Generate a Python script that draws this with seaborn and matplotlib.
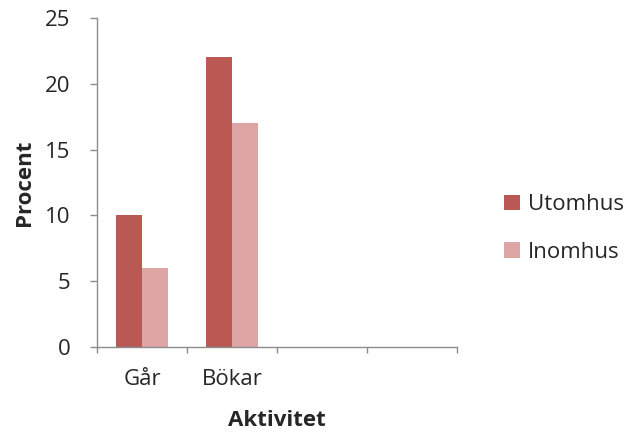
import numpy as np
import pandas as pd
import seaborn as sns
import matplotlib.pyplot as plt

# Data
categories = ['Går', 'Bökar', '', ' ']
series = ['Utomhus', 'Inomhus']
utomhus = [10, 22]
inomhus = [6, 17]
colors = ['#BA5853', '#DDA6A4']

df = pd.DataFrame({
    'Aktivitet': categories[:2] * 2,
    'Procent': utomhus + inomhus,
    'Serie': [series[0]] * 2 + [series[1]] * 2,
})

sns.set_style('white')
plt.rcParams['font.family'] = ['Open Sans', 'DejaVu Sans']
fs = 16

fig = plt.figure(figsize=(6.28, 4.32), dpi=100)
ax = fig.add_axes([0.1545, 0.1968, 0.5732, 0.7615])

sns.barplot(data=df, x='Aktivitet', y='Procent', hue='Serie', order=categories,
            hue_order=series, palette=colors, width=0.57, saturation=1,
            linewidth=0, ax=ax)

# Axes styling
ax.set_xlim(-0.5, len(categories) - 0.5)
ax.set_ylim(0, 25)
ax.set_yticks(np.arange(0, 26, 5))
ax.set_xticks(np.arange(-0.5, len(categories), 1))
ax.set_xticklabels([])
ax.set_xticks(np.arange(len(categories)), minor=True)
ax.set_xticklabels(categories, minor=True)
ax.tick_params(axis='x', which='major', bottom=True, length=4.5, width=1,
               color='#8c8c8c', direction='out')
ax.tick_params(axis='x', which='minor', bottom=True, length=0, pad=16,
               labelsize=fs)
ax.tick_params(axis='y', left=True, length=5, width=1, color='#8c8c8c',
               direction='out', pad=14, labelsize=fs)

for side in ['top', 'right']:
    ax.spines[side].set_visible(False)
for side in ['left', 'bottom']:
    ax.spines[side].set_color('#8c8c8c')
    ax.spines[side].set_linewidth(1)

ax.set_xlabel('Aktivitet', fontsize=fs, fontweight='bold', labelpad=14)
ax.set_ylabel('Procent', fontsize=fs, fontweight='bold', labelpad=7)

ax.legend(loc='center left', bbox_to_anchor=(1.076, 0.36), frameon=False,
          fontsize=fs, handlelength=0.7, handleheight=0.7, handletextpad=0.35,
          labelspacing=1.2)

fig.savefig('out.png', dpi=100)
